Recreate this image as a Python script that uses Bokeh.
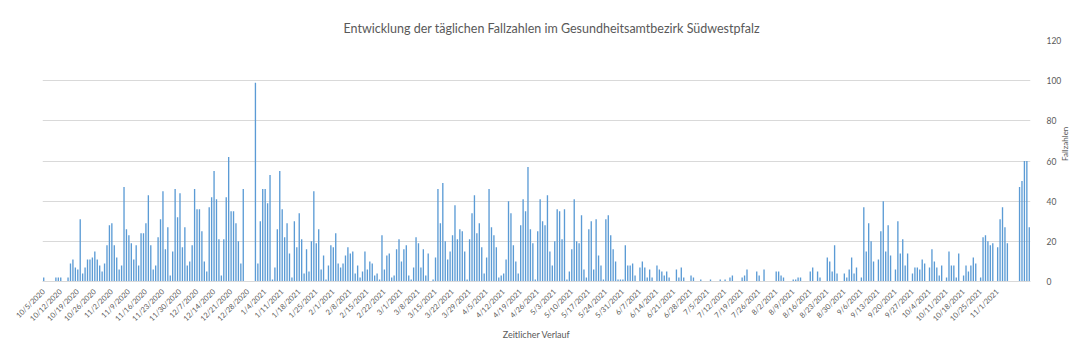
import math
import pandas as pd
from bokeh.plotting import figure
from bokeh.models import ColumnDataSource, FixedTicker, Range1d
from bokeh.embed import file_html
from bokeh.resources import INLINE

# ---------------- data (daily new cases) ----------------
start_date = "2020-10-05"
last_label_date = "2021-11-01"

cases_2020_10 = [2, 0, 0, 0, 0, 2, 2, 2, 0, 0, 2, 9, 11, 7, 6, 31, 4, 7, 11, 11,
                 12, 15, 11, 8, 5, 9, 18]
cases_2020_11 = [28, 29, 18, 12, 6, 8, 47, 26, 23, 19, 11, 18, 8, 24, 24, 29, 43, 18, 6, 8,
                 22, 31, 45, 16, 27, 3, 15, 46, 32, 44]
cases_2020_12 = [17, 27, 8, 10, 18, 46, 36, 36, 25, 10, 5, 37, 42, 55, 41, 21, 3, 21, 42, 62,
                 35, 35, 29, 20, 9, 46, 0, 0, 0, 0, 99]
cases_2021_01 = [9, 30, 46, 46, 39, 53, 1, 7, 26, 55, 36, 22, 29, 14, 2, 30, 17, 34, 21, 4,
                 16, 5, 20, 45, 19, 26, 6, 13, 1, 8, 18]
cases_2021_02 = [17, 24, 9, 7, 9, 13, 17, 14, 15, 4, 8, 2, 5, 15, 6, 10, 9, 3, 4, 1,
                 23, 6, 13, 14, 2, 3, 16, 21]
cases_2021_03 = [10, 16, 18, 3, 1, 7, 22, 19, 7, 16, 3, 14, 0, 1, 12, 46, 29, 49, 20, 11,
                 15, 23, 38, 21, 26, 25, 15, 1, 21, 34, 43]
cases_2021_04 = [24, 29, 17, 4, 12, 46, 27, 23, 17, 2, 3, 4, 11, 40, 34, 18, 10, 4, 28, 41,
                 35, 57, 26, 19, 1, 25, 41, 30, 28, 43]
cases_2021_05 = [15, 8, 20, 36, 35, 21, 36, 1, 5, 16, 41, 20, 19, 33, 6, 2, 26, 30, 6, 31,
                 13, 8, 1, 31, 33, 23, 16, 10, 1, 1, 1]
cases_2021_06 = [18, 8, 8, 9, 3, 0, 7, 10, 7, 2, 6, 2, 0, 8, 6, 5, 3, 5, 2, 0,
                 0, 6, 2, 7, 2, 0, 0, 3, 2, 0]
cases_2021_07 = [0, 1, 0, 0, 0, 1, 0, 0, 0, 1, 0, 1, 0, 2, 3, 0, 0, 0, 2, 3,
                 6, 0, 0, 0, 5, 3, 0, 6, 0, 0, 0]
cases_2021_08 = [0, 5, 5, 3, 2, 0, 0, 0, 1, 1, 2, 2, 0, 0, 0, 5, 7, 0, 5, 2,
                 0, 0, 12, 10, 5, 18, 4, 0, 0, 4, 2]
cases_2021_09 = [6, 12, 4, 7, 0, 2, 37, 15, 29, 20, 10, 0, 11, 25, 40, 15, 28, 13, 0, 6,
                 30, 14, 21, 8, 14, 0, 4, 7, 7, 6]
cases_2021_10 = [11, 9, 0, 7, 16, 10, 7, 3, 8, 0, 2, 15, 8, 8, 2, 14, 0, 3, 8, 5,
                 8, 12, 9, 0, 2, 22, 23, 20, 18, 19, 0]
cases_2021_11 = [17, 31, 37, 27, 19, 0, 0, 0, 0, 47, 50, 60, 60, 27]

y_ticks = [0, 20, 40, 60, 80, 100, 120]

title_text = "Entwicklung der täglichen Fallzahlen im Gesundheitsamtbezirk Südwestpfalz"
x_title = "Zeitlicher Verlauf"
y_title = "Fallzahlen"

# ---------------- build ----------------
cases = (cases_2020_10 + cases_2020_11 + cases_2020_12 + cases_2021_01 + cases_2021_02 +
         cases_2021_03 + cases_2021_04 + cases_2021_05 + cases_2021_06 + cases_2021_07 +
         cases_2021_08 + cases_2021_09 + cases_2021_10 + cases_2021_11)
dates = pd.date_range(start_date, periods=len(cases), freq="D")
idx = list(range(len(cases)))
src = ColumnDataSource(dict(x=idx, y=cases))

label_dates = pd.date_range(start_date, last_label_date, freq="7D")
tick_pos = [int((d - dates[0]).days) for d in label_dates]
tick_labels = {t: f"{d.month}/{d.day}/{d.year}" for t, d in zip(tick_pos, label_dates)}

FONT = "Lato"
GREY = "#595959"

p = figure(width=1084, height=357, output_backend="svg", toolbar_location=None,
           x_range=Range1d(-0.5, len(cases) - 0.5), y_range=Range1d(0, 120),
           y_axis_location="right",
           min_border_left=42, min_border_right=54, min_border_top=40, min_border_bottom=76)

p.vbar(x="x", top="y", width=0.55, source=src, fill_color="#5B9BD5", line_color=None)

p.title.text = title_text
p.title.align = "left"
p.title.offset = 301
p.title.text_font = FONT
p.title.text_font_style = "normal"
p.title.text_font_size = "12.5px"
p.title.text_color = GREY

p.outline_line_color = None
p.xgrid.visible = False
p.ygrid.grid_line_color = "#d9d9d9"

xa = p.xaxis[0]
xa.ticker = FixedTicker(ticks=tick_pos)
xa.major_label_overrides = tick_labels
xa.major_label_orientation = math.pi / 4
xa.major_label_text_font = FONT
xa.major_label_text_font_size = "7.5px"
xa.major_label_text_color = GREY
xa.major_tick_line_color = None
xa.minor_tick_line_color = None
xa.axis_line_color = "#d9d9d9"
xa.major_label_standoff = 3
xa.axis_label = x_title
xa.axis_label_text_font = FONT
xa.axis_label_text_font_style = "normal"
xa.axis_label_text_font_size = "9px"
xa.axis_label_text_color = GREY
xa.axis_label_standoff = 0

ya = p.yaxis[0]
ya.ticker = FixedTicker(ticks=y_ticks)
ya.major_label_text_font = FONT
ya.major_label_text_font_size = "8.5px"
ya.major_label_text_color = GREY
ya.major_tick_line_color = None
ya.minor_tick_line_color = None
ya.axis_line_color = None
ya.major_label_standoff = 10
ya.axis_label = y_title
ya.axis_label_orientation = math.pi / 2
ya.axis_label_text_font = FONT
ya.axis_label_text_font_style = "normal"
ya.axis_label_text_font_size = "8px"
ya.axis_label_text_color = GREY
ya.axis_label_standoff = 1

open("out.html", "w").write(file_html(p, INLINE))
